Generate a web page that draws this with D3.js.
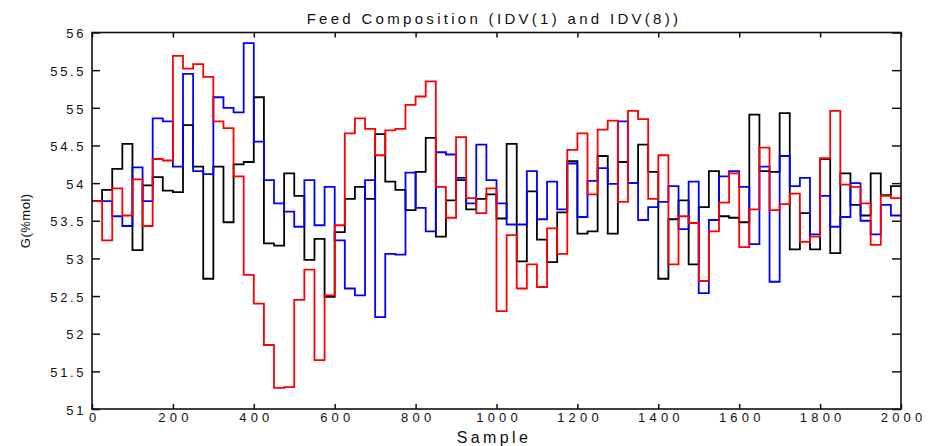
<!DOCTYPE html>
<html>
<head>
<meta charset="utf-8">
<script src="https://cdn.jsdelivr.net/npm/d3@7"></script>
<style>
  body { margin: 0; background: #fff; }
  svg text { font-family: "Liberation Sans", Arial, sans-serif; fill: #111; }
</style>
</head>
<body>
<svg id="chart"></svg>
<script>
// one value every 25 samples
const stepSize = 25;

const blackSeries = [
  53.76, 53.91, 54.19, 54.52, 53.11, 53.97, 54.08, 53.90, 53.88, 54.77,
  54.22, 52.73, 54.22, 53.48, 54.25, 54.28, 55.14, 53.20, 53.17, 54.13,
  53.83, 52.98, 53.26, 52.49, 53.35, 53.79, 53.95, 53.79, 54.65, 54.02,
  53.91, 53.64, 54.15, 54.60, 53.29, 53.77, 54.04, 53.65, 53.79, 53.85,
  53.53, 54.52, 52.96, 53.89, 53.25, 52.95, 53.61, 54.29, 53.33, 53.36,
  54.36, 53.33, 54.28, 54.00, 54.51, 54.15, 52.73, 53.52, 53.77, 52.92,
  53.68, 54.16, 53.56, 53.54, 53.48, 54.91, 54.16, 54.15, 54.93, 53.12,
  53.60, 53.12, 54.32, 53.07, 54.13, 53.71, 53.57, 54.13, 53.84, 53.96
];

const blueSeries = [
  53.76, 53.76, 53.56, 53.43, 54.21, 53.76, 54.86, 54.82, 54.22, 55.45,
  54.16, 54.12, 55.14, 55.00, 54.94, 55.86, 54.55, 54.04, 53.73, 53.62,
  53.42, 54.04, 53.44, 53.95, 53.24, 52.60, 52.51, 54.04, 52.22, 53.06,
  53.05, 54.14, 53.67, 53.36, 54.41, 54.38, 54.07, 53.73, 54.51, 54.04,
  53.73, 53.45, 53.45, 54.16, 53.52, 54.02, 53.65, 54.26, 53.55, 54.03,
  54.20, 53.99, 54.82, 54.00, 53.51, 53.68, 53.75, 53.96, 53.39, 54.02,
  52.54, 53.51, 54.09, 54.16, 53.95, 53.19, 54.22, 52.69, 54.36, 53.96,
  54.07, 53.32, 53.83, 53.42, 53.55, 54.00, 53.50, 53.32, 53.71, 53.57
];

const redSeries = [
  53.76, 53.24, 53.93, 53.57, 54.05, 53.43, 54.32, 54.30, 55.69, 55.52,
  55.58, 55.41, 54.82, 54.73, 54.09, 52.78, 52.40, 51.85, 51.28, 51.29,
  52.45, 52.85, 51.65, 52.51, 53.44, 54.66, 54.86, 54.72, 54.37, 54.70,
  54.72, 55.04, 55.15, 55.35, 53.95, 53.54, 54.61, 53.80, 53.60, 53.93,
  52.30, 53.31, 52.60, 52.92, 52.62, 53.40, 53.06, 54.44, 54.66, 53.85,
  54.71, 54.83, 53.75, 54.96, 54.85, 53.79, 54.37, 52.92, 53.56, 53.47,
  52.70, 53.36, 53.74, 54.13, 53.15, 53.65, 54.47, 53.64, 53.72, 53.86,
  53.22, 53.29, 54.33, 54.96, 53.98, 53.95, 53.73, 53.18, 53.83, 53.80
];

const xTicks = [0, 200, 400, 600, 800, 1000, 1200, 1400, 1600, 1800, 2000];
const yTicks = [51, 51.5, 52, 52.5, 53, 53.5, 54, 54.5, 55, 55.5, 56];

const series = [
  { name: "IDV(1)", color: "#000000", values: blackSeries },
  { name: "IDV(8) a", color: "#0000ff", values: blueSeries },
  { name: "IDV(8) b", color: "#ff0000", values: redSeries }
];

const width = 934, height = 446;
const margin = { top: 32.5, right: 33, bottom: 37, left: 92 };

const svg = d3.select("#chart").attr("width", width).attr("height", height);

const x = d3.scaleLinear().domain([0, 2000]).range([margin.left, width - margin.right]);
const y = d3.scaleLinear().domain([51, 56]).range([height - margin.bottom, margin.top]);

svg.append("defs").append("clipPath").attr("id", "plotClip")
  .append("rect")
  .attr("x", x(0)).attr("y", y(56))
  .attr("width", x(2000) - x(0)).attr("height", y(51) - y(56));

// step points: value k holds from k*stepSize to (k+1)*stepSize
const toPoints = (values) => {
  const pts = values.map((v, i) => [i * stepSize, v]);
  pts.push([values.length * stepSize, values[values.length - 1]]);
  return pts;
};

const line = d3.line()
  .x((d) => x(d[0]))
  .y((d) => y(d[1]))
  .curve(d3.curveStepAfter);

const linesGroup = svg.append("g").attr("clip-path", "url(#plotClip)");
linesGroup.selectAll("path")
  .data(series)
  .join("path")
  .attr("d", (d) => line(toPoints(d.values)))
  .attr("fill", "none")
  .attr("stroke", (d) => d.color)
  .attr("stroke-width", 1.8)
  .attr("stroke-linejoin", "miter");

// axes: ticks point inward on all four sides
const tickSpacing = 4.2;
const axisStyle = (g) => {
  g.select(".domain").remove();
  g.selectAll(".tick line").attr("stroke", "#111").attr("stroke-width", 1.5);
  g.selectAll(".tick text")
    .attr("font-size", 13)
    .attr("letter-spacing", tickSpacing + "px")
    .attr("fill", "#111");
};

svg.append("g")
  .attr("transform", `translate(0,${y(51)})`)
  .call(d3.axisBottom(x).tickValues(xTicks).tickFormat(d3.format("d")).tickSizeInner(-5).tickPadding(4))
  .call(axisStyle)
  .call((g) => g.selectAll(".tick text").attr("dx", tickSpacing / 2 + "px"));

svg.append("g")
  .attr("transform", `translate(0,${y(56)})`)
  .call(d3.axisTop(x).tickValues(xTicks).tickSizeInner(-5).tickFormat(""))
  .call(axisStyle);

svg.append("g")
  .attr("transform", `translate(${x(0)},0)`)
  .call(d3.axisLeft(y).tickValues(yTicks).tickFormat(d3.format("~g")).tickSizeInner(-8).tickPadding(6))
  .call(axisStyle)
  .call((g) => g.selectAll(".tick text").attr("dy", "0.4em").attr("letter-spacing", "2.6px"));

svg.append("g")
  .attr("transform", `translate(${x(2000)},0)`)
  .call(d3.axisRight(y).tickValues(yTicks).tickSizeInner(-9).tickFormat(""))
  .call(axisStyle);

svg.append("rect")
  .attr("x", x(0)).attr("y", y(56))
  .attr("width", x(2000) - x(0)).attr("height", y(51) - y(56))
  .attr("fill", "none")
  .attr("stroke", "#111")
  .attr("stroke-width", 1.6);

// titles
svg.append("text")
  .attr("x", 494)
  .attr("y", 24)
  .attr("text-anchor", "middle")
  .attr("font-size", 15)
  .attr("letter-spacing", "3.3px")
  .text("Feed Composition (IDV(1) and IDV(8))");

svg.append("text")
  .attr("x", 494)
  .attr("y", 443)
  .attr("text-anchor", "middle")
  .attr("font-size", 16)
  .attr("letter-spacing", "3.4px")
  .text("Sample");

svg.append("text")
  .attr("transform", `translate(30,${(y(51) + y(56)) / 2}) rotate(-90)`)
  .attr("text-anchor", "middle")
  .attr("font-size", 13)
  .attr("letter-spacing", "0.5px")
  .text("G(%mol)");
</script>
</body>
</html>
